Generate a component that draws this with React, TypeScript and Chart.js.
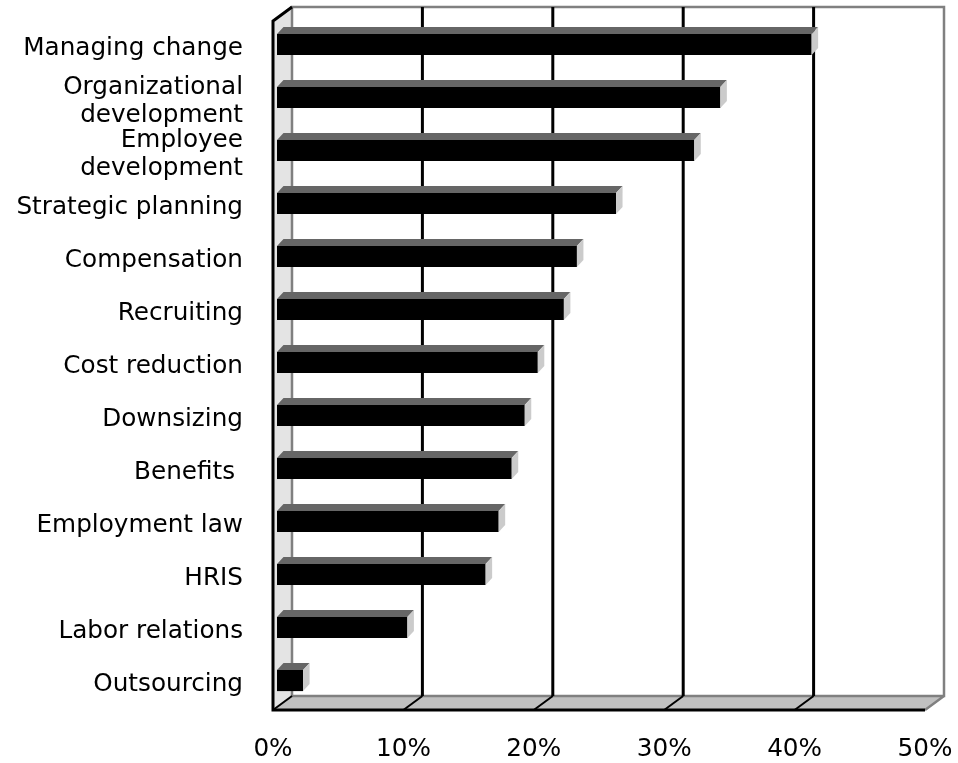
import React, { useEffect, useRef } from 'react';
import { Chart, registerables } from 'chart.js';

Chart.register(...registerables);

const categories: (string | string[])[] = [
  'Managing change',
  ['Organizational', 'development'],
  ['Employee', 'development'],
  'Strategic planning',
  'Compensation',
  'Recruiting',
  'Cost reduction',
  'Downsizing',
  'Benefits ',
  'Employment law',
  'HRIS',
  'Labor relations',
  'Outsourcing',
];
const values = [41, 34, 32, 26, 23, 22, 20, 19, 18, 17, 16, 10, 2];
const xTickValues = [0, 10, 20, 30, 40, 50];

const FONT = '"DejaVu Sans", Verdana, sans-serif';

const excel3d = {
  id: 'excel3d',
  beforeDatasetsDraw(chart: any) {
    const { ctx, chartArea: ca, scales } = chart;
    const xs = scales.x;
    const L = ca.left, R = ca.right, T = ca.top, B = ca.bottom;
    const bx = 15, by = -11, fx = -4, fy = 3;
    ctx.save();
    // back wall
    ctx.fillStyle = '#ffffff';
    ctx.fillRect(L + bx, T + by, R - L, B - T);
    // side wall
    ctx.beginPath();
    ctx.moveTo(L + bx, T + by);
    ctx.lineTo(L + bx, B + by);
    ctx.lineTo(L + fx, B + fy);
    ctx.lineTo(L + fx, T + fy);
    ctx.closePath();
    ctx.fillStyle = '#e4e4e4';
    ctx.fill();
    // floor
    ctx.beginPath();
    ctx.moveTo(L + bx, B + by);
    ctx.lineTo(R + bx, B + by);
    ctx.lineTo(R + fx, B + fy);
    ctx.lineTo(L + fx, B + fy);
    ctx.closePath();
    ctx.fillStyle = '#c0c0c0';
    ctx.fill();
    // gray edges of back wall
    ctx.strokeStyle = '#808080';
    ctx.lineWidth = 2.5;
    ctx.beginPath();
    ctx.moveTo(L + bx, B + by);
    ctx.lineTo(L + bx, T + by);
    ctx.lineTo(R + bx, T + by);
    ctx.lineTo(R + bx, B + by);
    ctx.lineTo(L + bx, B + by);
    ctx.moveTo(R + bx, B + by);
    ctx.lineTo(R + fx, B + fy);
    ctx.stroke();
    // gridlines on back wall and floor
    ctx.strokeStyle = '#000000';
    xTickValues.forEach((v) => {
      if (v === 0 || v === 50) return;
      const p = xs.getPixelForValue(v);
      ctx.lineWidth = 3;
      ctx.beginPath();
      ctx.moveTo(p + bx, T + by);
      ctx.lineTo(p + bx, B + by);
      ctx.stroke();
      ctx.lineWidth = 2;
      ctx.beginPath();
      ctx.moveTo(p + bx, B + by);
      ctx.lineTo(p + fx, B + fy);
      ctx.stroke();
    });
    // black front edges
    ctx.lineWidth = 3;
    ctx.beginPath();
    ctx.moveTo(L + bx, T + by);
    ctx.lineTo(L + fx, T + fy);
    ctx.lineTo(L + fx, B + fy);
    ctx.lineTo(R + fx, B + fy);
    ctx.stroke();
    ctx.lineWidth = 2;
    ctx.beginPath();
    ctx.moveTo(L + fx, B + fy);
    ctx.lineTo(L + bx, B + by);
    ctx.stroke();
    ctx.restore();
  },
  afterDatasetsDraw(chart: any) {
    const { ctx } = chart;
    const meta = chart.getDatasetMeta(0);
    const dx = 6.5, dy = -7;
    ctx.save();
    meta.data.forEach((bar: any) => {
      const { x, y, base, height } = bar.getProps(['x', 'y', 'base', 'height'], true);
      const top = y - height / 2;
      const bot = y + height / 2;
      ctx.beginPath();
      ctx.moveTo(base, top);
      ctx.lineTo(base + dx, top + dy);
      ctx.lineTo(x + dx, top + dy);
      ctx.lineTo(x, top);
      ctx.closePath();
      ctx.fillStyle = '#666666';
      ctx.fill();
      ctx.beginPath();
      ctx.moveTo(x, top);
      ctx.lineTo(x + dx, top + dy);
      ctx.lineTo(x + dx, bot + dy);
      ctx.lineTo(x, bot);
      ctx.closePath();
      ctx.fillStyle = '#cbcbcb';
      ctx.fill();
    });
    ctx.restore();
  },
};

export default function App() {
  const ref = useRef<HTMLCanvasElement | null>(null);
  useEffect(() => {
    if (!ref.current) return;
    const chart = new Chart(ref.current, {
      type: 'bar',
      data: {
        labels: categories as any,
        datasets: [
          {
            data: values,
            backgroundColor: '#000000',
            borderWidth: 0,
            barPercentage: 0.4,
            categoryPercentage: 1,
          },
        ],
      },
      options: {
        indexAxis: 'y',
        responsive: false,
        animation: false,
        layout: { padding: { top: 18, right: 29, left: 0, bottom: 0 } },
        plugins: { legend: { display: false }, tooltip: { enabled: false } },
        scales: {
          x: {
            type: 'linear',
            min: 0,
            max: 50,
            grid: { display: false, drawTicks: false },
            border: { display: false },
            afterBuildTicks: (s: any) => {
              s.ticks = xTickValues.map((v) => ({ value: v }));
            },
            afterFit: (s: any) => {
              s.height = 56;
              s.paddingLeft = 0;
              s.paddingRight = 0;
            },
            ticks: {
              callback: (v: any) => v + '%',
              padding: 28,
              labelOffset: -4,
              color: '#000000',
              maxRotation: 0,
              autoSkip: false,
              font: { family: FONT, size: 24.7 },
            },
          },
          y: {
            grid: { display: false, drawTicks: false },
            border: { display: false },
            afterFit: (s: any) => {
              s.width = 277;
              s.paddingTop = 0;
              s.paddingBottom = 0;
            },
            ticks: {
              padding: 34,
              labelOffset: 4,
              color: '#000000',
              autoSkip: false,
              font: { family: FONT, size: 24.7, lineHeight: 1.15 },
            },
          },
        },
      },
      plugins: [excel3d],
    } as any);
    return () => chart.destroy();
  }, []);
  return (
    <div style={{ position: 'absolute', left: 0, top: 0, width: 958, height: 763, background: '#fff' }}>
      <canvas ref={ref} width={958} height={763} style={{ display: 'block' }} />
    </div>
  );
}
